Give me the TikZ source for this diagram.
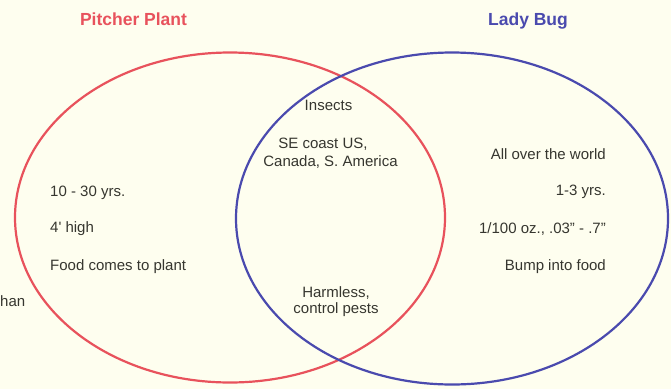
\documentclass[tikz,border=0pt]{standalone}
\usepackage{fontspec}
\setmainfont{Liberation Sans}
\definecolor{bg}{HTML}{FEFEEF}
\definecolor{redc}{HTML}{E8525C}
\definecolor{bluec}{HTML}{4A4AAE}
\definecolor{txt}{HTML}{36362F}
\begin{document}
\begin{tikzpicture}[x=1pt,y=-1pt,
  body/.style={font=\fontsize{15}{17}\selectfont, text=txt, inner sep=0pt, anchor=base},
  bodyL/.style={body, anchor=base west},
  bodyR/.style={body, anchor=base east},
  title/.style={font=\fontsize{17.5}{20}\selectfont\bfseries, inner sep=0pt, anchor=base},
  ring/.style={line width=2.2pt}]
\fill[bg] (0,0) rectangle (671,389);
\useasboundingbox (0,0) rectangle (671,389);
\draw[ring, redc] (230,217.5) ellipse [x radius=215, y radius=165];
\draw[ring, bluec] (452,218.5) ellipse [x radius=216, y radius=166];
\node[title, text=redc] (tp) at (133.5,25) {Pitcher Plant};
\node[title, text=bluec] (tl) at (528,25) {Lady Bug};
\node[bodyL] (l1) at (50,196) {10 - 30 yrs.};
\node[bodyL] (l2) at (50,232.5) {4\textquotesingle{} high};
\node[bodyL] (l3) at (50,270) {Food comes to plant};
\node[bodyL] (l4) at (0,306.5) {han};
\node[bodyR] (r1) at (606,159.5) {All over the world};
\node[bodyR] (r2) at (606,195) {1-3 yrs.};
\node[bodyR] (r3) at (606,233) {1/100 oz., .03" - .7"};
\node[bodyR] (r4) at (606,270) {Bump into food};
\node[body] (c1) at (328.5,110.5) {Insects};
\node[body] (c2) at (323,148) {SE coast US,};
\node[body] (c3) at (330.5,166) {Canada, S. America};
\node[body] (c4) at (336,297) {Harmless,};
\node[body] (c5) at (336,313.5) {control pests};
\end{tikzpicture}
\end{document}
